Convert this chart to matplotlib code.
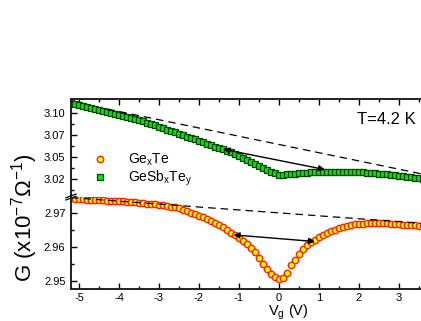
import numpy as np
import matplotlib
matplotlib.use("Agg")
import matplotlib.pyplot as plt
from matplotlib.lines import Line2D

# gate voltage sweep (V), 0.1 V steps
vg = np.round(np.arange(-5.2, 3.65, 0.1), 2)

# GexTe conductance (x1e-7 1/Ohm), lower panel
g_gete = [
    2.9744, 2.9743, 2.9742, 2.9741, 2.9740, 2.9740, 2.9739, 2.9738, 2.9738, 2.9737,
    2.9737, 2.9736, 2.9736, 2.9735, 2.9734, 2.9733, 2.9732, 2.9731, 2.9730, 2.9728,
    2.9727, 2.9726, 2.9724, 2.9723, 2.9721, 2.9719, 2.9717, 2.9714, 2.9711, 2.9707,
    2.9702, 2.9697, 2.9692, 2.9688, 2.9683, 2.9677, 2.9670, 2.9664, 2.9658, 2.9651,
    2.9643, 2.9635, 2.9627, 2.9618, 2.9609, 2.9598, 2.9585, 2.9568, 2.9551, 2.9535,
    2.9522, 2.9512, 2.9505, 2.9510, 2.9523, 2.9546, 2.9563, 2.9580, 2.9594, 2.9605,
    2.9614, 2.9622, 2.9629, 2.9636, 2.9642, 2.9647, 2.9652, 2.9656, 2.9660, 2.9663,
    2.9665, 2.9667, 2.9668, 2.9669, 2.9670, 2.9670, 2.9671, 2.9671, 2.9671, 2.9670,
    2.9669, 2.9668, 2.9667, 2.9666, 2.9665, 2.9664, 2.9664, 2.9663, 2.9663,
]

# GeSbxTey conductance, upper panel
g_gesbte = [
    3.1114, 3.1103, 3.1092, 3.1081, 3.1070, 3.1059, 3.1048, 3.1037, 3.1026, 3.1015,
    3.1004, 3.0993, 3.0982, 3.0971, 3.0960, 3.0949, 3.0938, 3.0927, 3.0911, 3.0895,
    3.0879, 3.0863, 3.0847, 3.0831, 3.0815, 3.0799, 3.0783, 3.0767, 3.0751, 3.0735,
    3.0719, 3.0703, 3.0687, 3.0671, 3.0655, 3.0639, 3.0623, 3.0607, 3.0591, 3.0575,
    3.0559, 3.0537, 3.0514, 3.0491, 3.0468, 3.0445, 3.0422, 3.0399, 3.0378, 3.0358,
    3.0338, 3.0318, 3.0300, 3.0302, 3.0306, 3.0310, 3.0314, 3.0318, 3.0322, 3.0325,
    3.0328, 3.0330, 3.0332, 3.0334, 3.0335, 3.0336, 3.0336, 3.0336, 3.0336, 3.0335,
    3.0334, 3.0333, 3.0331, 3.0329, 3.0326, 3.0323, 3.0320, 3.0314, 3.0310, 3.0305,
    3.0300, 3.0295, 3.0290, 3.0284, 3.0278, 3.0272, 3.0266, 3.0260, 3.0254,
]

# dashed guide lines (start/end points)
dash_up_v = [-4.3, 5.4]
dash_up_g = [3.1049, 3.0140]
dash_lo_v = [-5.2, 5.4]
dash_lo_g = [2.97460, 2.96543]

# double arrows: (v1, g1) -> (v2, g2)
arrow_up = ((-1.39, 3.0591), (1.15, 3.0361))
arrow_lo = ((-1.14, 2.96362), (0.90, 2.96165))

x_ticks = list(range(-5, 6))
x_ticklabels = [str(v) if v <= 3 else '' for v in x_ticks]

plt.rcParams['font.family'] = ['Liberation Sans', 'DejaVu Sans']
plt.rcParams['mathtext.default'] = 'regular'
plt.rcParams['axes.unicode_minus'] = False

W, H = 421, 321
fig = plt.figure(figsize=(W / 100, H / 100), dpi=100)

left = 71 / W
width = (495 - 71) / W
ax_top = fig.add_axes([left, (H - 197) / H, width, 98 / H])
ax_bot = fig.add_axes([left, (H - 289) / H, width, 92 / H])

red_kw = dict(ls='none', marker='o', ms=4.6, mfc='#ffff00', mec='#ff2000', mew=1.0)
green_kw = dict(ls='none', marker='s', ms=5.0, mfc='#10e010', mec='#004800', mew=0.9)

ax_top.plot(vg, g_gesbte, **green_kw)
ax_bot.plot(vg, g_gete, **red_kw)

ax_top.plot(dash_up_v, dash_up_g, color='black', lw=0.9, dashes=(6, 4))
ax_bot.plot(dash_lo_v, dash_lo_g, color='black', lw=0.9, dashes=(6, 4))

for ax, (p1, p2) in ((ax_top, arrow_up), (ax_bot, arrow_lo)):
    ax.annotate('', xy=p2, xytext=p1,
                arrowprops=dict(arrowstyle='<|-|>', color='black', lw=1.0,
                                mutation_scale=9, shrinkA=0, shrinkB=0))

ax_top.set_ylim(3.0049, 3.1163)
ax_bot.set_ylim(2.94765, 2.97479)
for ax in (ax_top, ax_bot):
    ax.set_xlim(-5.2, 5.4)
    ax.set_xticks(x_ticks)
    ax.set_xticks(np.arange(-5, 5.5, 0.5), minor=True)
    ax.tick_params(which='both', direction='in', top=True, right=True,
                   width=1.0, labelsize=8, pad=4)
    ax.tick_params(which='major', length=4)
    ax.tick_params(which='minor', length=2)
    for s in ax.spines.values():
        s.set_linewidth(1.4)
        s.set_color('#202020')

ax_top.spines['bottom'].set_visible(False)
ax_bot.spines['top'].set_visible(False)
ax_top.tick_params(which='both', bottom=False, labelbottom=False)
ax_bot.tick_params(which='both', top=False)
ax_bot.tick_params(axis='x', pad=3)

ax_top.set_yticks([3.025, 3.05, 3.075, 3.10])
ax_top.set_yticklabels(['3.02', '3.05', '3.07', '3.10'])
ax_top.set_yticks([3.0125, 3.0375, 3.0625, 3.0875, 3.1125], minor=True)
ax_bot.set_yticks([2.95, 2.96, 2.97])
ax_bot.set_yticklabels(['2.95', '2.96', '2.97'])
ax_bot.set_yticks([2.955, 2.965], minor=True)
ax_bot.set_xticklabels(x_ticklabels)

# axis break marks on the left spine
for dy in (-0.012, 0.012):
    ax_bot.plot([-0.012, 0.012], [1 + dy - 0.02, 1 + dy + 0.02], transform=ax_bot.transAxes,
                color='black', lw=0.9, clip_on=False)

ax_top.text(1.95, 3.0935, 'T=4.2 K', fontsize=12, va='center', ha='left')

handles = [Line2D([], [], **red_kw), Line2D([], [], **green_kw)]
fig.legend(handles, ['Ge$_x$Te', 'GeSb$_x$Te$_y$'], loc='center left',
           bbox_to_anchor=(93 / W, (H - 170) / H), frameon=False, fontsize=10,
           handlelength=1.0, handletextpad=1.5, borderpad=0, borderaxespad=0,
           labelspacing=0.05)

fig.text(25 / W, (H - 218) / H, 'G (x10$^{-7}$Ω$^{-1}$)', rotation=90,
         fontsize=16, ha='center', va='center')
fig.text(288 / W, (H - 312) / H, 'V$_g$ (V)', fontsize=10.5, ha='center', va='center')

fig.savefig('out.png', dpi=100)
